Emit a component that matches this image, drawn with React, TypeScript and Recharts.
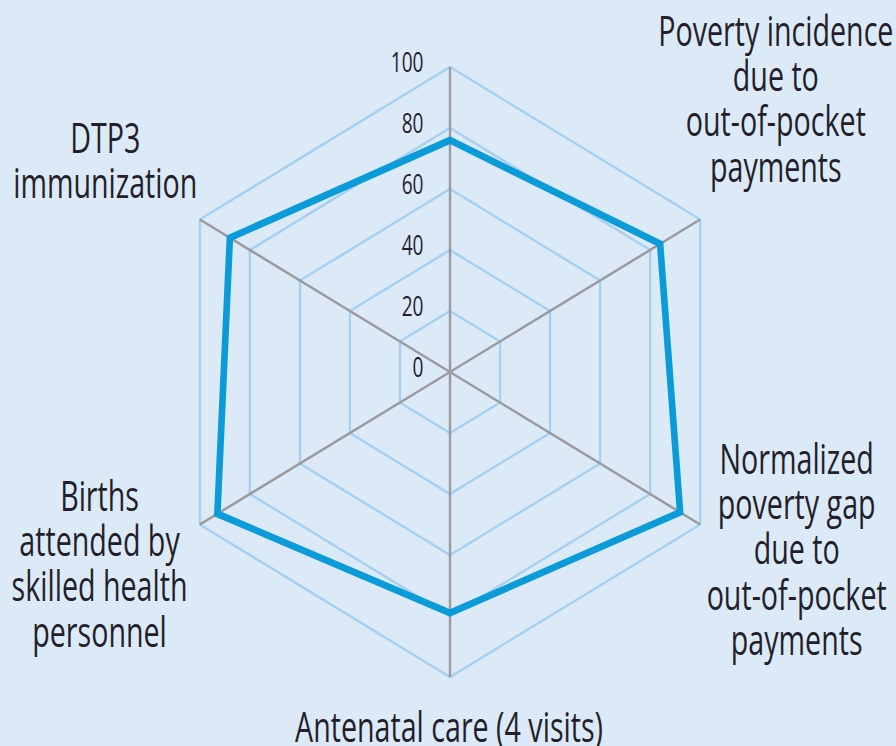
import { PolarAngleAxis, PolarGrid, PolarRadiusAxis, Radar, RadarChart } from 'recharts';

// axes run clockwise from the top; the top axis label is cut off in the source
const categories = [
  'Top axis',
  'Poverty incidence',
  'Normalized poverty gap',
  'Antenatal care',
  'Births attended',
  'DTP3 immunization',
];
const labelLines: string[][] = [
  [],
  ['Poverty incidence', 'due to', 'out-of-pocket', 'payments'],
  ['Normalized', 'poverty gap', 'due to', 'out-of-pocket', 'payments'],
  ['Antenatal care (4 visits)'],
  ['Births', 'attended by', 'skilled health', 'personnel'],
  ['DTP3', 'immunization'],
];
const values = [76, 84, 92, 79, 93, 88];
const radiusTicks = [0, 20, 40, 60, 80, 100];

const data = categories.map((c, i) => ({ indicator: c, value: values[i] }));

// where each label block sits relative to its axis tick (first baseline, centre)
const labelOffsets = [
  [0, 0],
  [73, -170],
  [95, -55],
  [-1, 57],
  [-99, -18],
  [-93, -63],
];

const TEXT = '#231f2a';
const FONT = '"Open Sans", Roboto, sans-serif';
const SQUEEZE = 0.72;

// chart is drawn wider than the window so the side labels are not clipped,
// then squeezed horizontally to match the flattened hexagon of the source
const CHART_W = 1100;
const CX = 550;
const PAGE_CX = 450;

function AngleTick(props: any) {
  const { x, y, payload } = props;
  const i = categories.indexOf(payload.value);
  const lines = labelLines[i] || [];
  const [dx, dy] = labelOffsets[i] || [0, 0];
  return (
    <g transform={`translate(${x + dx},${y + dy}) scale(${SQUEEZE},1)`}>
      {lines.map((l, k) => (
        <text
          key={k}
          x={0}
          y={k * 45.5}
          textAnchor="middle"
          fill={TEXT}
          fontSize={42}
          fontFamily={FONT}
        >
          {l}
        </text>
      ))}
    </g>
  );
}

function RadiusTick(props: any) {
  const { x, y, payload } = props;
  return (
    <g transform={`translate(${x - 28},${y - 6}) scale(${SQUEEZE},1)`}>
      <text
        x={0}
        y={0}
        textAnchor="end"
        dominantBaseline="central"
        fill={TEXT}
        fontSize={28}
        fontFamily={FONT}
      >
        {payload.value}
      </text>
    </g>
  );
}

export default function App() {
  return (
    <div
      style={{
        position: 'fixed',
        left: 0,
        top: 0,
        width: 896,
        height: 746,
        background: '#dceaf7',
        overflow: 'hidden',
      }}
    >
      <div
        style={{
          position: 'absolute',
          left: PAGE_CX - CX,
          top: 0,
          width: CHART_W,
          height: 746,
          transform: 'scaleX(0.947)',
          transformOrigin: `${CX}px 0`,
        }}
      >
        <RadarChart
          width={CHART_W}
          height={746}
          data={data}
          cx={CX}
          cy={372}
          outerRadius={305}
          margin={{ top: 0, right: 0, bottom: 0, left: 0 }}
        >
          <PolarGrid gridType="polygon" radialLines={false} stroke="#a7cff0" strokeWidth={2.5} />
          <PolarGrid polarRadius={[]} stroke="#9a9a9e" strokeWidth={2.5} />
          <PolarAngleAxis dataKey="indicator" tick={<AngleTick />} tickLine={false} axisLine={false} />
          <PolarRadiusAxis
            angle={90}
            domain={[0, 100]}
            ticks={radiusTicks as any}
            tickCount={6}
            tick={<RadiusTick />}
            axisLine={false}
            tickLine={false}
          />
          <Radar
            dataKey="value"
            stroke="#0a9bd8"
            strokeWidth={7}
            strokeLinejoin="miter"
            fill="none"
            fillOpacity={0}
            dot={false}
            isAnimationActive={false}
          />
        </RadarChart>
      </div>
    </div>
  );
}
